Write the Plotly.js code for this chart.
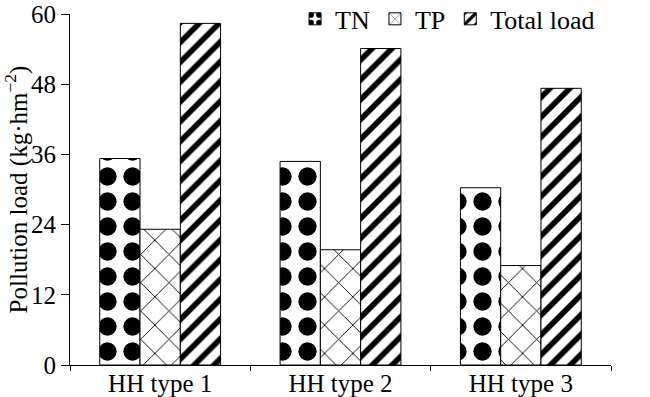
<!DOCTYPE html>
<html>
<head>
<meta charset="utf-8">
<script src="https://cdn.plot.ly/plotly-3.0.1.min.js"></script>
<style>html,body{margin:0;padding:0;background:#fff;}#chart{width:650px;height:397px;}</style>
</head>
<body>
<div id="chart"></div>
<script>
const categories = ['HH type 1', 'HH type 2', 'HH type 3'];
const seriesNames = ['TN', 'TP', 'Total load'];
const tnValues = [35.3, 34.8, 30.3];
const tpValues = [23.2, 19.7, 17.0];
const totalValues = [58.4, 54.1, 47.3];
const yTicks = [0, 12, 24, 36, 48, 60];

const FONT = 'Liberation Serif, Times New Roman, serif';
const patterns = [
  {shape: '.', size: 25, solidity: 0.42, fgcolor: '#000', bgcolor: '#fff', fillmode: 'replace'},
  {shape: 'x', size: 20, solidity: 0.09, fgcolor: '#000', bgcolor: '#fff', fillmode: 'replace'},
  {shape: '/', size: 14, solidity: 0.4, fgcolor: '#000', bgcolor: '#fff', fillmode: 'replace'}
];
const values = [tnValues, tpValues, totalValues];

const data = values.map((v, i) => ({
  type: 'bar',
  name: seriesNames[i],
  x: categories,
  y: v,
  marker: {color: '#fff', pattern: patterns[i], line: {color: '#000', width: 1}}
}));

const layout = {
  width: 650, height: 397,
  margin: {l: 70, r: 39, t: 14, b: 32, autoexpand: false},
  paper_bgcolor: '#fff', plot_bgcolor: '#fff',
  font: {family: FONT, size: 25, color: '#000'},
  barmode: 'group', bargap: 0.33, bargroupgap: 0,
  showlegend: true,
  legend: {orientation: 'h', x: 0.416, xanchor: 'left', y: 0.986, yanchor: 'middle',
           font: {family: FONT, size: 26, color: '#000'}, bgcolor: 'rgba(0,0,0,0)', traceorder: 'normal'},
  xaxis: {
    type: 'category', range: [-0.5, 2.5], tickson: 'boundaries',
    showline: true, linecolor: '#000', linewidth: 1,
    ticks: 'outside', ticklen: 5, tickcolor: '#000', showgrid: false, zeroline: false,
    ticklabelstandoff: -4,
    tickfont: {family: FONT, size: 25, color: '#000'}
  },
  yaxis: {
    range: [0, 60], tickvals: yTicks, ticktext: yTicks.map(String),
    showline: true, linecolor: '#000', linewidth: 1,
    ticks: 'outside', ticklen: 8, tickcolor: '#000', showgrid: false, zeroline: false,
    tickfont: {family: FONT, size: 25, color: '#000'},
    title: {text: 'Pollution load (kg·hm<sup>−2</sup>)', font: {family: FONT, size: 25, color: '#000'}, standoff: 6}
  }
};

Plotly.newPlot('chart', data, layout, {displayModeBar: false, staticPlot: true});
</script>
</body>
</html>
